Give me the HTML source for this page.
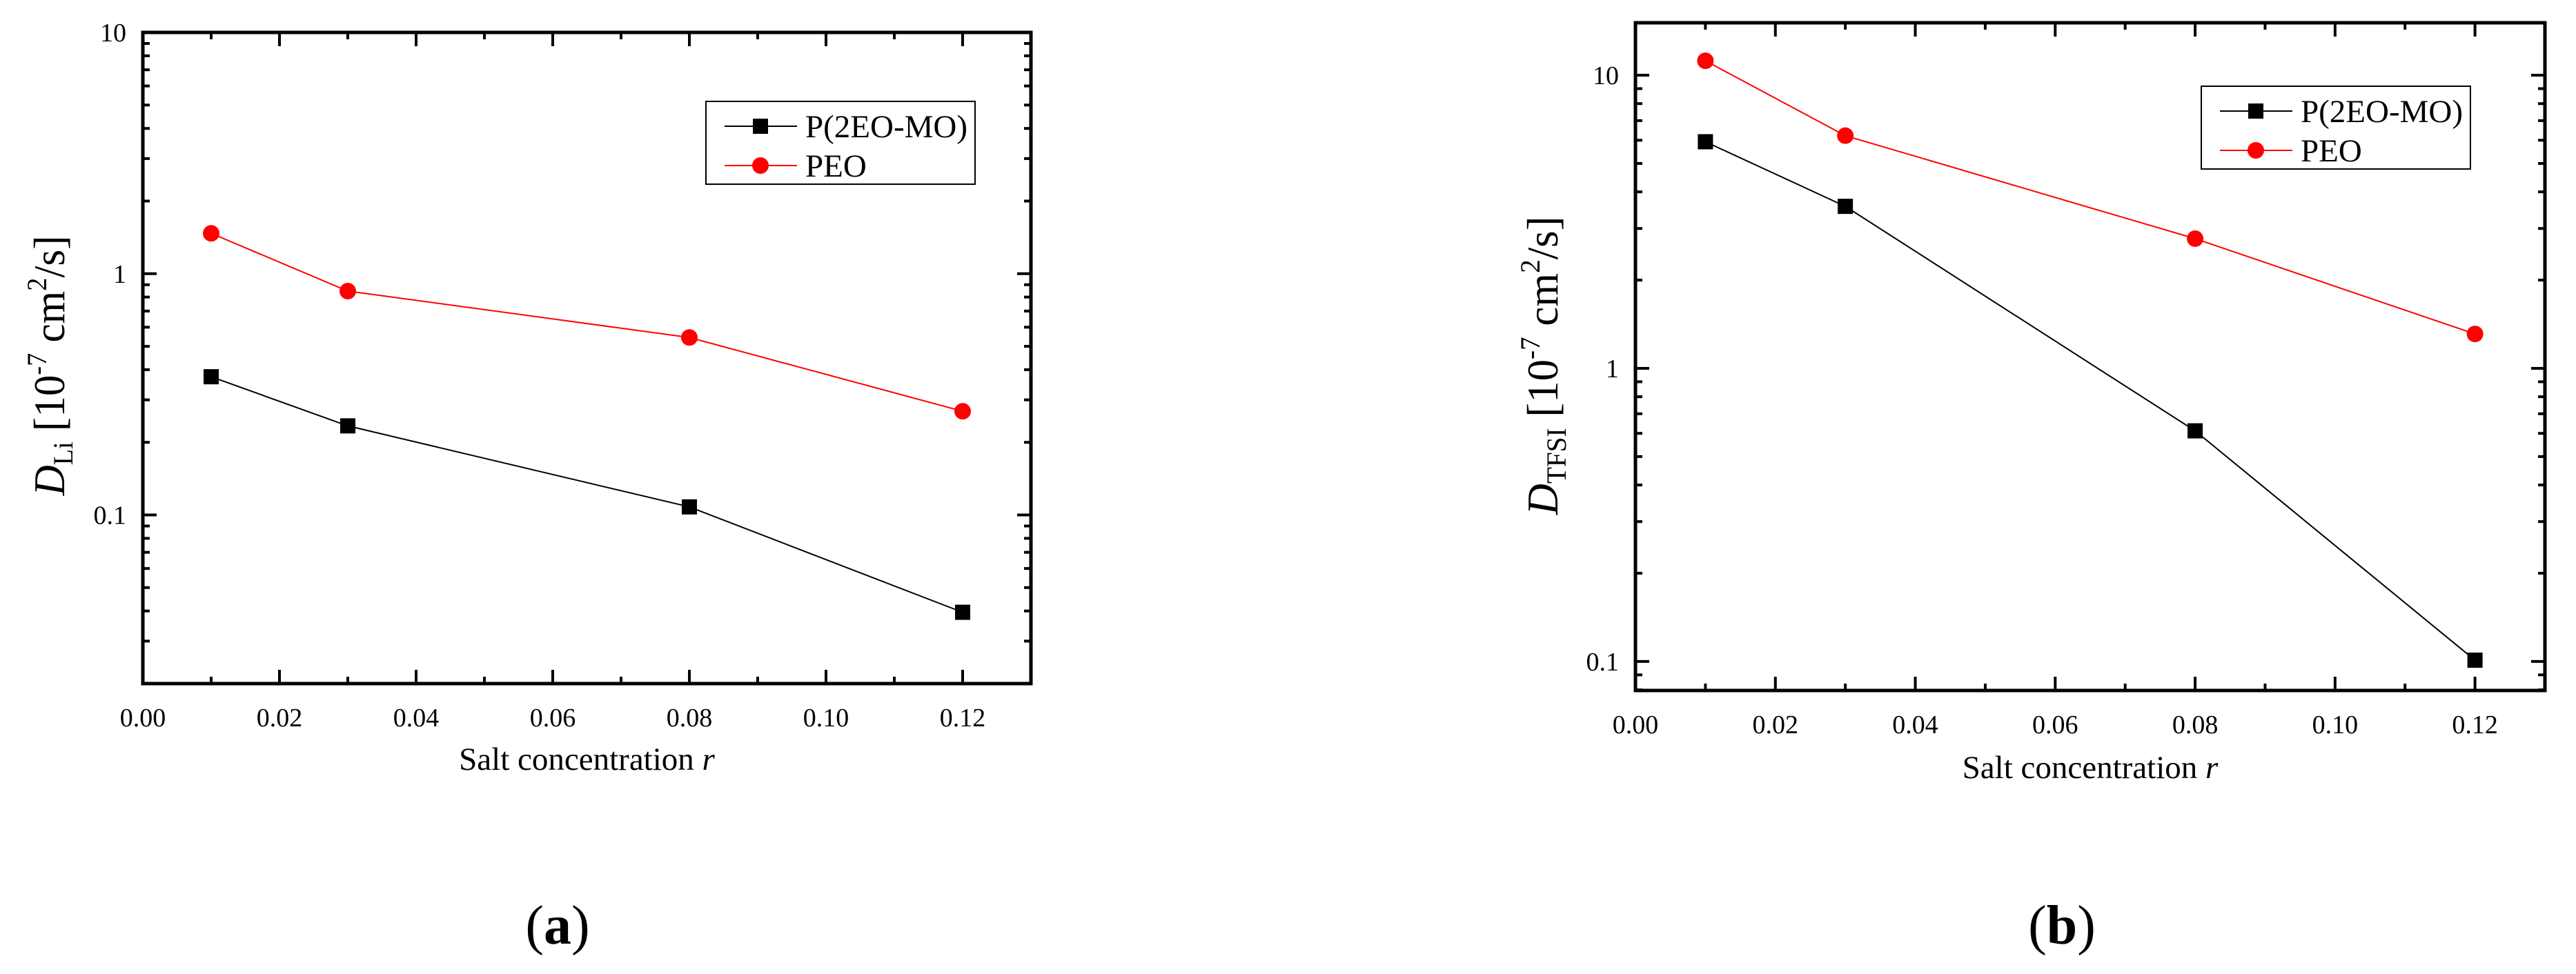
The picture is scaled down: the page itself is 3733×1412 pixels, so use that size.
<!DOCTYPE html>
<html><head><meta charset="utf-8"><style>
html,body{margin:0;padding:0;background:#fff;}
svg{display:block;font-family:"Liberation Serif",serif;}
</style></head><body>
<svg id="fig" width="3733" height="1412" viewBox="0 0 3733 1412" xmlns="http://www.w3.org/2000/svg"></svg>
<script>
const categories = [0.01, 0.03, 0.08, 0.12];
const seriesNames = ["P(2EO-MO)", "PEO"];
const liP2EO = [0.374, 0.234, 0.108, 0.0395];
const liPEO = [1.47, 0.847, 0.544, 0.269];
const tfsiP2EO = [5.93, 3.57, 0.612, 0.101];
const tfsiPEO = [11.2, 6.22, 2.77, 1.31];
const xTickLabels = ["0.00","0.02","0.04","0.06","0.08","0.10","0.12"];
const yTickLabelsA = ["0.1","1","10"];
const yTickLabelsB = ["0.1","1","10"];

const NS = "http://www.w3.org/2000/svg";
const svg = document.getElementById('fig');
function mk(tag, attrs, parent){ const e=document.createElementNS(NS,tag); for(const k in attrs) e.setAttribute(k,attrs[k]); (parent||svg).appendChild(e); return e; }

function panel(cfg){
  const g = mk('g',{});
  
  
  const {L,R,T,B,ymin,ymax} = cfg;
  const xs = v => L + (v-0)/(0.13-0)*(R-L);
  const ys = v => B - (Math.log10(v)-Math.log10(ymin))/(Math.log10(ymax)-Math.log10(ymin))*(B-T);
  // ticks
  const tg = mk('g',{stroke:'#000','stroke-width':4},g);
  
  
  for(let i=0;i<=13;i++){
    const v=i*0.01, x=xs(v), len=(i%2===0)?20:10;
    if(i>0 && i<13){
      mk('line',{x1:x,x2:x,y1:B,y2:B-len},tg);
      mk('line',{x1:x,x2:x,y1:T,y2:T+len},tg);
    }
  }
  for(let d=-3; d<=2; d++){
    for(let m=1;m<=9;m++){
      const v=m*Math.pow(10,d);
      if(v<=ymin*1.0001||v>=ymax*0.9999) continue;
      const y=ys(v), len=(m===1)?20:10;
      mk('line',{x1:L,x2:L+len,y1:y,y2:y},tg);
      mk('line',{x1:R,x2:R-len,y1:y,y2:y},tg);
    }
  }
  const frame = mk('rect',{x:L,y:T,width:R-L,height:B-T,fill:'none',stroke:'#000','stroke-width':5},g);
  
  
  // x tick labels
  xTickLabels.forEach((t,i)=>{
    const el=mk('text',{x:xs(i*0.02),y:B+62,'font-size':38,'text-anchor':'middle'},g);
    
    
    el.textContent=t;
  });
  cfg.yLabels.forEach(t=>{
    const el=mk('text',{x:L-24,y:ys(parseFloat(t))+13,'font-size':38,'text-anchor':'end'},g);
    
    
    el.textContent=t;
  });
  // x title
  const xt=mk('text',{x:(L+R)/2,y:cfg.xTitleY,'font-size':47,'text-anchor':'middle'},g);
  
  
  xt.innerHTML='Salt concentration <tspan font-style="italic">r</tspan>';
  // y title
  const yt=mk('text',{x:0,y:0,'font-size':64,'text-anchor':'middle',transform:`translate(${cfg.yTitleX},${cfg.yTitleY}) rotate(-90)`,textLength:cfg.yTitleLen,lengthAdjust:'spacingAndGlyphs'},g);
  
  
  yt.innerHTML=`<tspan font-style="italic">D</tspan><tspan font-size="40" dy="12">${cfg.sub}</tspan><tspan dy="-12"> [10</tspan><tspan font-size="40" dy="-26">-7</tspan><tspan dy="26"> cm</tspan><tspan font-size="40" dy="-26">2</tspan><tspan dy="26">/s]</tspan>`;
  // panel label
  const pl=mk('text',{x:cfg.labX,y:1368,'font-size':80,'text-anchor':'middle'},g);
  
  
  pl.innerHTML=`(<tspan font-weight="bold">${cfg.lab}</tspan>)`;
  // series
  const series=[{vals:cfg.s1,color:'#000',sq:true,n:'series-p2eo-mo'},{vals:cfg.s2,color:'#ff0000',sq:false,n:'series-peo'}];
  series.forEach(s=>{
    const sg=mk('g',{},g);
    
    
    const pts=categories.map((c,i)=>xs(c)+','+ys(s.vals[i])).join(' ');
    mk('polyline',{points:pts,fill:'none',stroke:s.color,'stroke-width':2},sg);
    categories.forEach((c,i)=>{
      let m;
      if(s.sq) m=mk('rect',{x:xs(c)-11,y:ys(s.vals[i])-11,width:22,height:22,fill:'#000'},sg);
      else m=mk('circle',{cx:xs(c),cy:ys(s.vals[i]),r:12,fill:'#ff0000'},sg);
      
      
    });
  });
  // legend
  const lg=mk('g',{},g);
  
  
  const lx=cfg.legX, ly=cfg.legY;
  mk('rect',{x:lx,y:ly,width:390,height:120,fill:'#fff',stroke:'#000','stroke-width':2},lg);
  [0,1].forEach(i=>{
    const ey=ly+36+i*57;
    const eg=mk('g',{},lg);
    
    
    const col=i===0?'#000':'#ff0000';
    mk('line',{x1:lx+27,x2:lx+132,y1:ey,y2:ey,stroke:col,'stroke-width':2},eg);
    if(i===0) mk('rect',{x:lx+68,y:ey-11,width:22,height:22,fill:'#000'},eg);
    else mk('circle',{cx:lx+79,cy:ey,r:12,fill:'#ff0000'},eg);
    const t=mk('text',{x:lx+144,y:ey+16,'font-size':47},eg);
    t.textContent=seriesNames[i];
  });
}

panel({name:'panel-a-li',L:207,R:1494,T:47,B:991,ymin:0.02,ymax:10,s1:liP2EO,s2:liPEO,yLabels:yTickLabelsA,
  xTitleY:1116,yTitleX:93,yTitleY:530,yTitleLen:377,sub:'Li',lab:'a',labX:808,legX:1023,legY:147});
panel({name:'panel-b-tfsi',L:2370,R:3688,T:33,B:1001,ymin:0.0796,ymax:15.1,s1:tfsiP2EO,s2:tfsiPEO,yLabels:yTickLabelsB,
  xTitleY:1128,yTitleX:2257,yTitleY:530,yTitleLen:433,sub:'TFSI',lab:'b',labX:2988,legX:3190,legY:125});
</script>
</body></html>
